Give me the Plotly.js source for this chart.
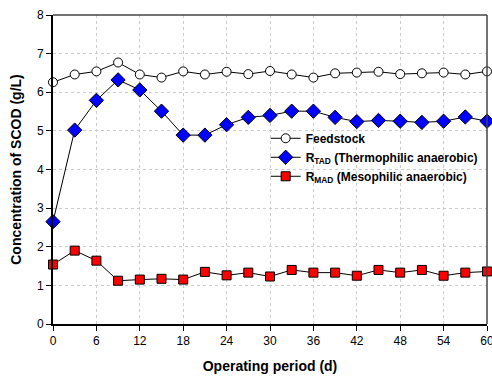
<!DOCTYPE html>
<html><head><meta charset="utf-8">
<script src="https://cdn.plot.ly/plotly-3.0.1.min.js"></script>
<style>html,body{margin:0;padding:0;background:#fff}</style>
</head><body><div id="chart" style="width:492px;height:376px"></div>
<script>
const days = [0,3,6,9,12,15,18,21,24,27,30,33,36,39,42,45,48,51,54,57,60];
const feedstock = [6.26,6.46,6.54,6.77,6.46,6.38,6.54,6.46,6.53,6.47,6.55,6.46,6.38,6.49,6.51,6.53,6.47,6.49,6.51,6.46,6.54];
const rTAD = [2.65,5.02,5.79,6.32,6.06,5.51,4.89,4.89,5.16,5.35,5.40,5.51,5.51,5.35,5.24,5.27,5.25,5.22,5.25,5.36,5.25];
const rMAD = [1.54,1.90,1.64,1.12,1.15,1.17,1.15,1.35,1.26,1.33,1.23,1.40,1.33,1.33,1.25,1.40,1.33,1.40,1.25,1.33,1.36];
const xTicks = [0,6,12,18,24,30,36,42,48,54,60];
const yTicks = [0,1,2,3,4,5,6,7,8];
const names = ['Feedstock','R<sub>TAD</sub> (Thermophilic anaerobic)','R<sub>MAD</sub> (Mesophilic anaerobic)'];

const line = {color:'#000', width:1};
const traces = [
  {x:days, y:feedstock, name:names[0], mode:'lines+markers', line:line, cliponaxis:false,
   marker:{symbol:'circle', size:9, color:'#fff', line:{color:'#000', width:1}}},
  {x:days, y:rTAD, name:names[1], mode:'lines+markers', line:line, cliponaxis:false,
   marker:{symbol:'diamond', size:11, color:'#0000ff', line:{color:'#000', width:1}}},
  {x:days, y:rMAD, name:names[2], mode:'lines+markers', line:line, cliponaxis:false,
   marker:{symbol:'square', size:9, color:'#ff0000', line:{color:'#000', width:1}}}
];
const font = {family:'"Liberation Sans", Arial, sans-serif', size:12, color:'#000'};
const layout = {
  width:492, height:376,
  margin:{l:53, r:5, t:15, b:52},
  paper_bgcolor:'#fff', plot_bgcolor:'#fff',
  font:font, showlegend:true,
  legend:{x:0.49, y:0.648, xanchor:'left', yanchor:'top', bgcolor:'rgba(0,0,0,0)',
          font:{family:font.family, size:12, color:'#000', weight:'bold'}, tracegroupgap:0, itemwidth:30},
  xaxis:{range:[0,60], tickvals:xTicks, ticktext:xTicks.map(String), ticks:'outside', ticklen:5, tickwidth:1, tickcolor:'#000',
         ticklabeloverflow:'allow',
         showline:true, linecolor:'#000', linewidth:2, zeroline:false,
         showgrid:true, gridcolor:'#cccccc', griddash:'dot', gridwidth:1,
         title:{text:'<b>Operating period (d)</b>', font:{family:font.family, size:14, color:'#000'}, standoff:14}},
  yaxis:{range:[0,8], tickvals:yTicks, ticks:'outside', ticklen:5, tickwidth:1, tickcolor:'#000',
         ticklabeloverflow:'allow',
         showline:true, linecolor:'#000', linewidth:2, zeroline:false,
         showgrid:true, gridcolor:'#cccccc', griddash:'dot', gridwidth:1,
         title:{text:'<b>Concentration of SCOD (g/L)</b>', font:{family:font.family, size:14, color:'#000'}, standoff:12}},
  shapes:[
    {type:'line', xref:'paper', yref:'paper', x0:0, x1:1, y0:1, y1:1, line:{color:'#444', width:1.5}},
    {type:'line', xref:'paper', yref:'paper', x0:1, x1:1, y0:0, y1:1, line:{color:'#444', width:1.5}}
  ]
};
Plotly.newPlot('chart', traces, layout, {displayModeBar:false, staticPlot:true});
</script></body></html>
